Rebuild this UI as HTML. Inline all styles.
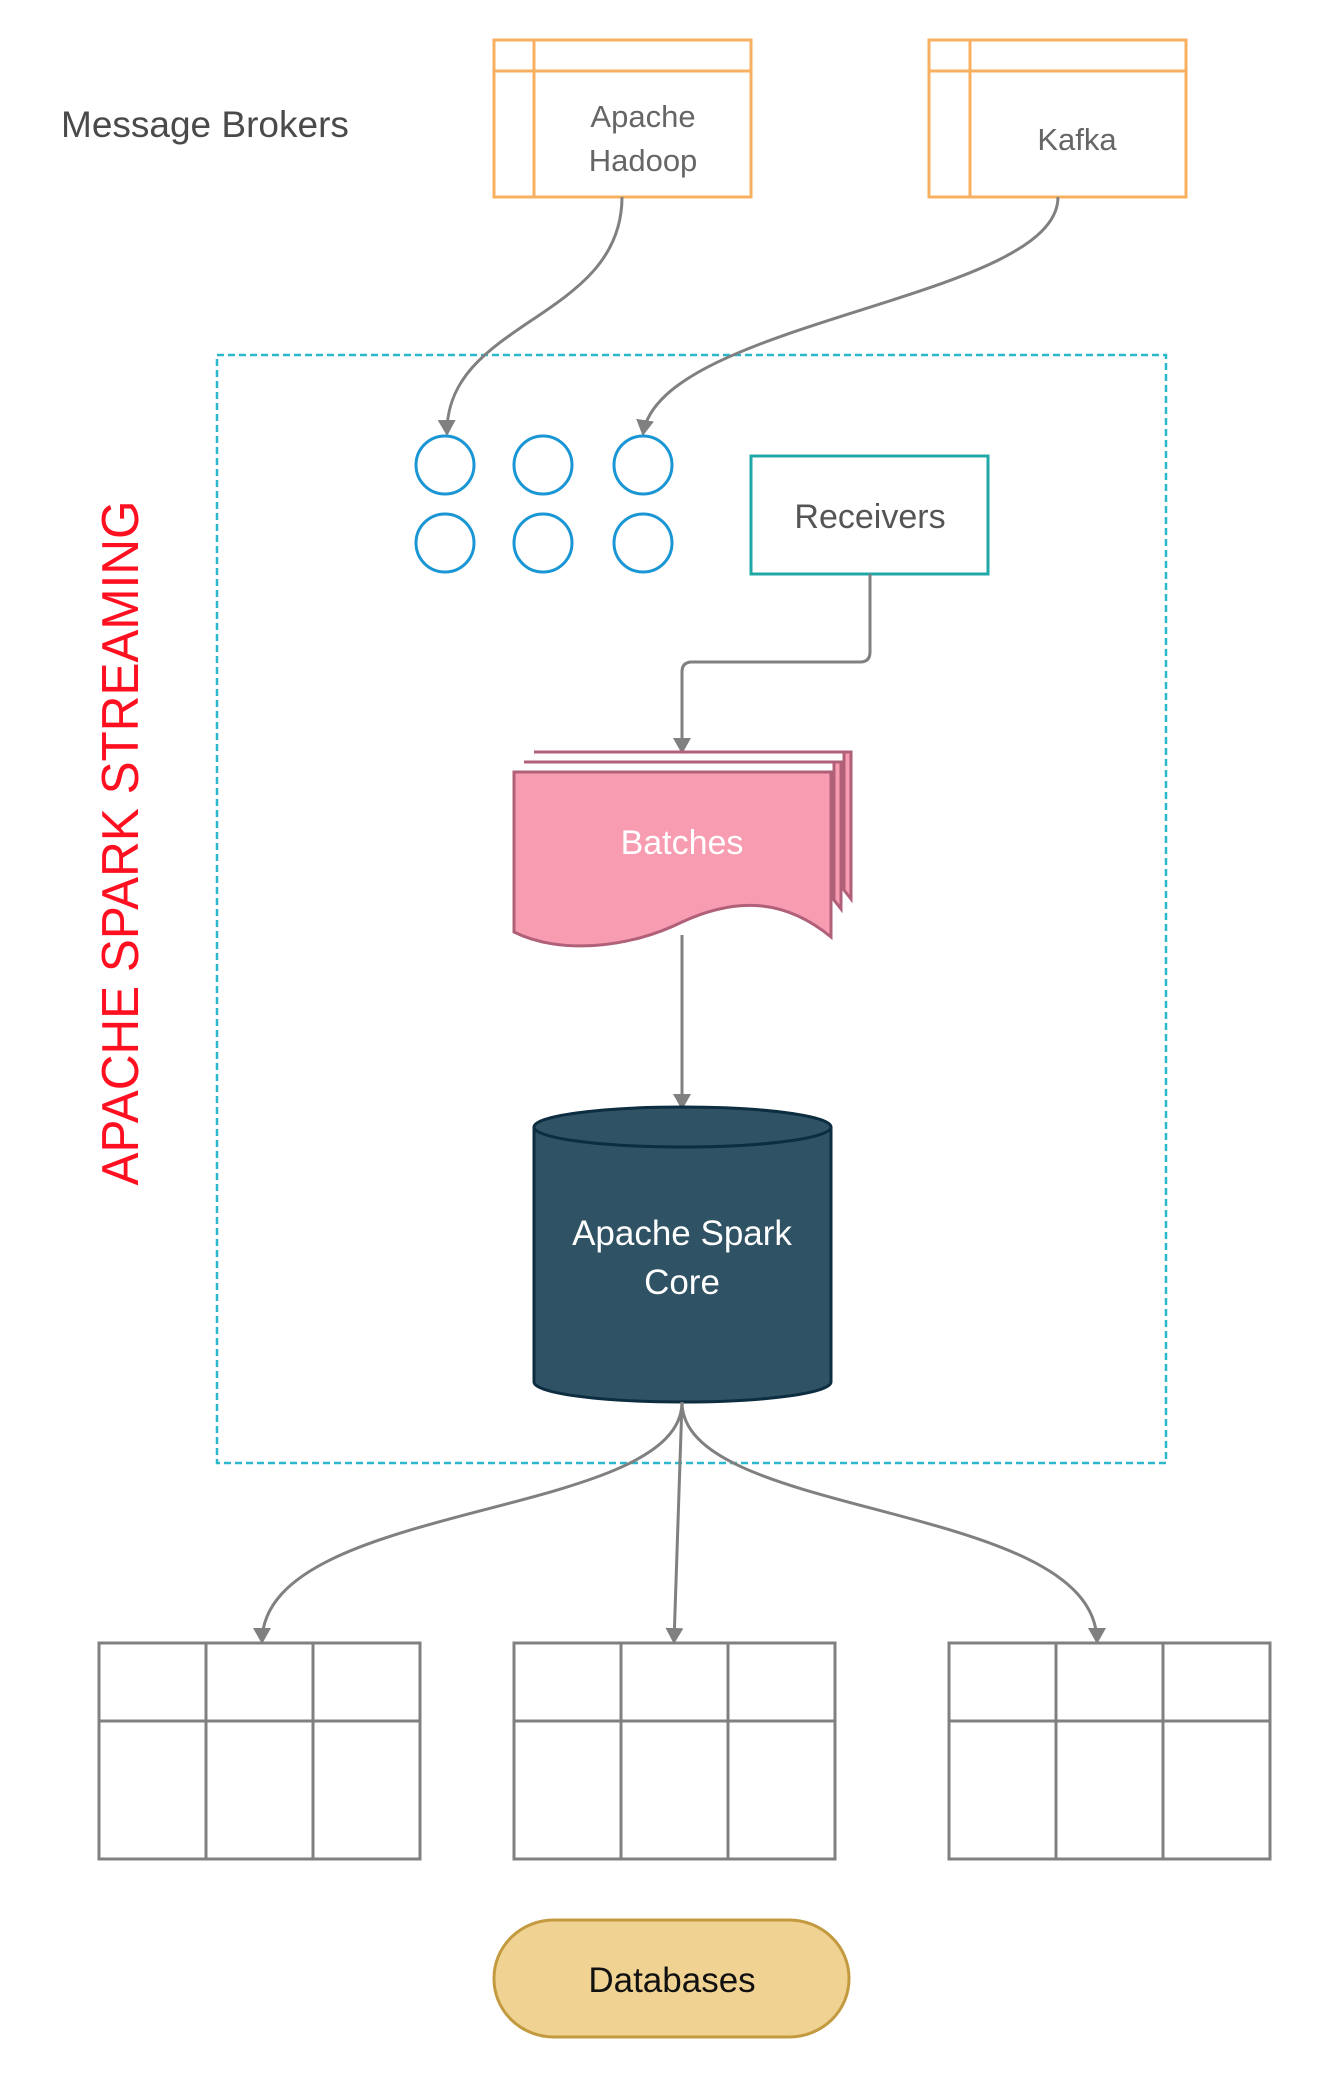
<!DOCTYPE html>
<html><head><meta charset="utf-8"><style>
html,body{margin:0;padding:0;background:#fff}
svg{display:block}
text{font-family:"Liberation Sans",sans-serif}
</style></head><body>
<svg width="1325" height="2100" viewBox="0 0 1325 2100" xmlns="http://www.w3.org/2000/svg">
<defs>
<marker id="ar" markerWidth="16" markerHeight="18" refX="14" refY="9" orient="auto" markerUnits="userSpaceOnUse" viewBox="0 0 16 18">
<path d="M0,0 L16,9 L0,18 z" fill="#808080"/>
</marker>
</defs>
<rect width="1325" height="2100" fill="#fff"/>

<text x="61" y="137" font-size="37" fill="#4a4a4a">Message Brokers</text>

<!-- Hadoop -->
<rect x="494" y="40" width="257" height="157" fill="#fff" stroke="#f7b060" stroke-width="3"/>
<line x1="534" y1="40" x2="534" y2="197" stroke="#f7b060" stroke-width="3"/>
<line x1="494" y1="71" x2="751" y2="71" stroke="#f7b060" stroke-width="3"/>
<text x="643" y="127" font-size="31" fill="#666" text-anchor="middle">Apache</text>
<text x="643" y="171" font-size="31" fill="#666" text-anchor="middle">Hadoop</text>

<!-- Kafka -->
<rect x="929" y="40" width="257" height="157" fill="#fff" stroke="#f7b060" stroke-width="3"/>
<line x1="970" y1="40" x2="970" y2="197" stroke="#f7b060" stroke-width="3"/>
<line x1="929" y1="71" x2="1186" y2="71" stroke="#f7b060" stroke-width="3"/>
<text x="1077" y="150" font-size="31" fill="#666" text-anchor="middle">Kafka</text>

<!-- container -->
<rect x="217" y="355" width="949" height="1108" fill="none" stroke="#2bb8cc" stroke-width="2.5" stroke-dasharray="7,4"/>

<text transform="translate(138,843) rotate(-90)" font-size="52" fill="#ff1020" text-anchor="middle" textLength="685" lengthAdjust="spacingAndGlyphs">APACHE SPARK STREAMING</text>

<!-- connectors from brokers -->
<path d="M622,197 C622,320 445,320 447,434" fill="none" stroke="#808080" stroke-width="3" marker-end="url(#ar)"/>
<path d="M1058,197 C1058,300 660,320 643,434" fill="none" stroke="#808080" stroke-width="3" marker-end="url(#ar)"/>

<!-- circles -->
<g fill="#fff" stroke="#1a96d4" stroke-width="3">
<circle cx="445" cy="465" r="29"/><circle cx="543" cy="465" r="29"/><circle cx="643" cy="465" r="29"/>
<circle cx="445" cy="543" r="29"/><circle cx="543" cy="543" r="29"/><circle cx="643" cy="543" r="29"/>
</g>

<!-- Receivers -->
<rect x="751" y="456" width="237" height="118" fill="#fff" stroke="#20a8a8" stroke-width="3"/>
<text x="870" y="528" font-size="34" fill="#555" text-anchor="middle">Receivers</text>
<path d="M870,574 L870,652 Q870,662 860,662 L692,662 Q682,662 682,672 L682,752" fill="none" stroke="#808080" stroke-width="3" marker-end="url(#ar)"/>

<!-- Batches -->
<g fill="#f79cb1" stroke="#b06078" stroke-width="3">
<path d="M534,752 L851,752 L851,899 L844,890 L844,752 Z"/>
<path d="M524,762 L841,762 L841,909 L834,900 L834,762 Z"/>
<path d="M514,772 L831,772 L831,937 C780,895 730,900 682,922 C630,948 560,955 514,932 Z"/>
</g>
<text x="682" y="854" font-size="34" fill="#fff" text-anchor="middle">Batches</text>
<line x1="682" y1="935" x2="682" y2="1108" stroke="#808080" stroke-width="3" marker-end="url(#ar)"/>

<!-- Cylinder -->
<path d="M534,1127 L534,1382 A148.5,20 0 0 0 831,1382 L831,1127" fill="#2f5264" stroke="#0d2d40" stroke-width="3"/>
<ellipse cx="682.5" cy="1127" rx="148.5" ry="20" fill="#2f5264" stroke="#0d2d40" stroke-width="3"/>
<text x="682" y="1245" font-size="35" fill="#fff" text-anchor="middle">Apache Spark</text>
<text x="682" y="1294" font-size="35" fill="#fff" text-anchor="middle">Core</text>

<!-- fan out -->
<path d="M682,1402 C682,1520 262,1500 262,1642" fill="none" stroke="#808080" stroke-width="3" marker-end="url(#ar)"/>
<path d="M682,1402 L674,1642" fill="none" stroke="#808080" stroke-width="3" marker-end="url(#ar)"/>
<path d="M682,1402 C682,1520 1097,1500 1097,1642" fill="none" stroke="#808080" stroke-width="3" marker-end="url(#ar)"/>

<!-- tables -->
<g fill="#fff" stroke="#808080" stroke-width="3">
<rect x="99" y="1643" width="321" height="216"/>
<line x1="99" y1="1721" x2="420" y2="1721"/><line x1="206" y1="1643" x2="206" y2="1859"/><line x1="313" y1="1643" x2="313" y2="1859"/>
<rect x="514" y="1643" width="321" height="216"/>
<line x1="514" y1="1721" x2="835" y2="1721"/><line x1="621" y1="1643" x2="621" y2="1859"/><line x1="728" y1="1643" x2="728" y2="1859"/>
<rect x="949" y="1643" width="321" height="216"/>
<line x1="949" y1="1721" x2="1270" y2="1721"/><line x1="1056" y1="1643" x2="1056" y2="1859"/><line x1="1163" y1="1643" x2="1163" y2="1859"/>
</g>

<!-- Databases -->
<rect x="494" y="1920" width="355" height="117" rx="60" ry="58" fill="#f0d392" stroke="#c49a40" stroke-width="3"/>
<text x="672" y="1992" font-size="35" fill="#111" text-anchor="middle">Databases</text>
</svg>
</body></html>
